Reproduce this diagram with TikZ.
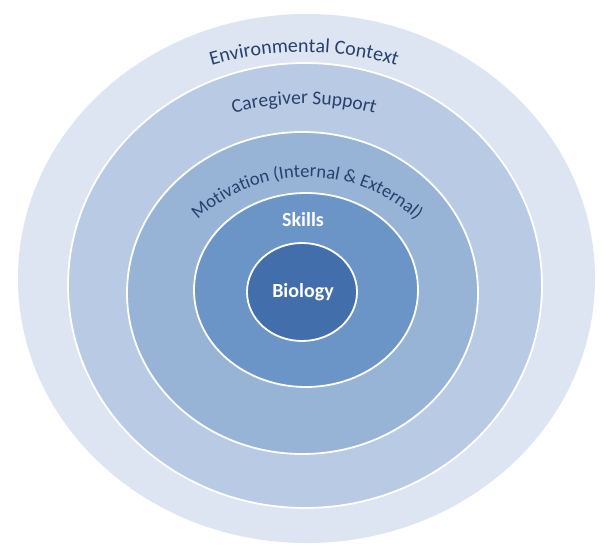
\documentclass[tikz,border=0pt]{standalone}
\usepackage{fontspec}
\setmainfont{Carlito}
\usetikzlibrary{decorations.text}
\definecolor{ringA}{RGB}{220,229,241}
\definecolor{ringB}{RGB}{185,203,228}
\definecolor{ringC}{RGB}{151,179,214}
\definecolor{ringD}{RGB}{108,149,199}
\definecolor{ringE}{RGB}{66,111,172}
\definecolor{txt}{RGB}{40,64,108}
\tikzset{
  ring/.style={draw=white, line width=1.8pt},
  arctext/.style={decorate, decoration={text along path, text align=center, text={#1}}},
  innerlabel/.style={text=white, font=\bfseries\fontsize{20}{24}\selectfont, anchor=base, inner sep=0pt}
}
\begin{document}
\begin{tikzpicture}[x=1pt, y=1pt]
\useasboundingbox (0,0) rectangle (604,548);
\fill[white] (0,0) rectangle (604,548);
% rings
\fill[ringA] (306.5,269.5) ellipse [x radius=288.5, y radius=264.5];
\path[ring, fill=ringB] (305,262.5) ellipse [x radius=237, y radius=222.5];
\path[ring, fill=ringC] (302.5,255) ellipse [x radius=175.5, y radius=161];
\path[ring, fill=ringD] (306,258) ellipse [x radius=112, y radius=97];
\path[ring, fill=ringE] (302,256) ellipse [x radius=55, y radius=49];
% arc labels
\coordinate (c) at (304,176);
\coordinate (cm) at (307,211);
\path[arctext={|\color{txt}\fontsize{20}{24}\selectfont|Environmental Context}]
  (c) ++(130:320) arc[start angle=130, end angle=50, radius=320];
\path[arctext={|\color{txt}\fontsize{19.5}{23}\selectfont|Caregiver Support}]
  (c) ++(135:268) arc[start angle=135, end angle=45, radius=268];
\path[arctext={|\color{txt}\fontsize{18.5}{22}\selectfont|Motivation (Internal {\&} External)}]
  (cm) ++(170:160) arc[start angle=170, end angle=10, radius=160];
% inner labels
\node[innerlabel] (skills) at (303,321) {Skills};
\node[innerlabel] (biology) at (303,250) {Biology};
\end{tikzpicture}
\end{document}
